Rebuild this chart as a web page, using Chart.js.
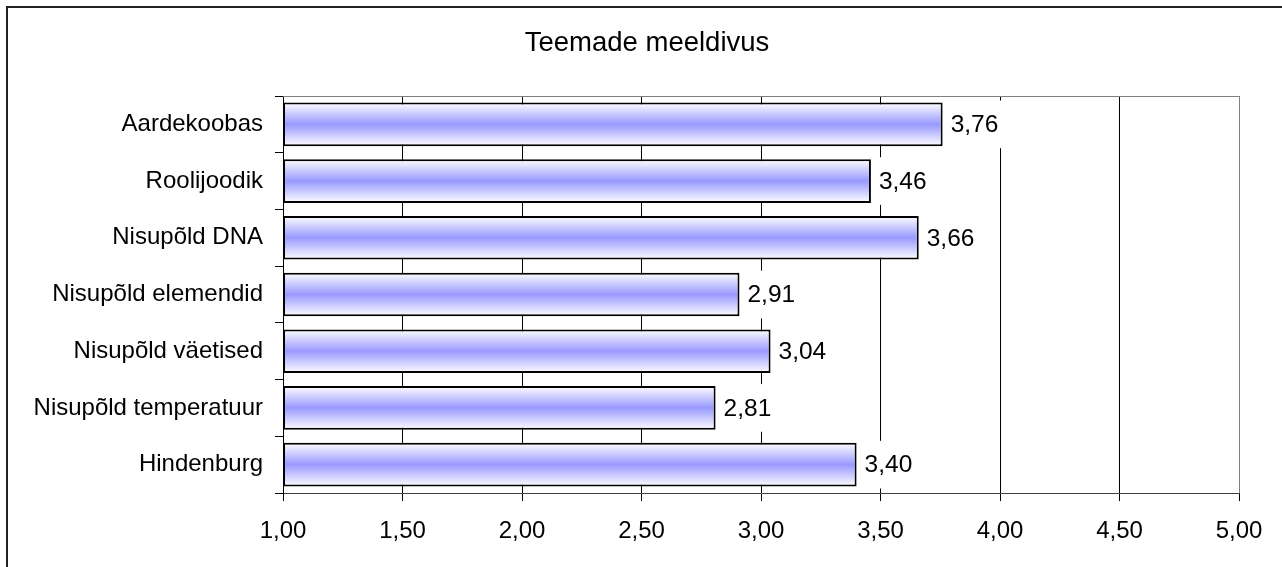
<!DOCTYPE html>
<html>
<head>
<meta charset="utf-8">
<script src="https://cdn.jsdelivr.net/npm/chart.js@4"></script>
<style>
  body { margin: 0; background: #fff; }
  canvas { display: block; }
</style>
</head>
<body>
<canvas id="myChart" width="1282" height="567"></canvas>
<script>
// data
const categories = ['Aardekoobas', 'Roolijoodik', 'Nisupõld DNA', 'Nisupõld elemendid',
  'Nisupõld väetised', 'Nisupõld temperatuur', 'Hindenburg'];
const scores = [3.76, 3.46, 3.66, 2.91, 3.04, 2.81, 3.40];
const xTicks = [1.00, 1.50, 2.00, 2.50, 3.00, 3.50, 4.00, 4.50, 5.00];
const baseValue = 1.00;

const FONT = "'Liberation Sans', Arial, sans-serif";
const BAR_PCT = 0.77;

function comma(v) {
  return v.toFixed(2).replace('.', ',');
}

// bar gradient: white at the edges, lavender in the middle
function barFill(ctx) {
  const chart = ctx.chart;
  const yScale = chart.scales.y;
  if (!chart.chartArea || !yScale || ctx.type !== 'data') return '#9999ff';
  const c = yScale.getPixelForValue(ctx.dataIndex);
  const h = (chart.chartArea.bottom - chart.chartArea.top) / categories.length * BAR_PCT / 2;
  const g = chart.ctx.createLinearGradient(0, c - h, 0, c + h);
  g.addColorStop(0, '#ffffff');
  g.addColorStop(0.5, '#9999ff');
  g.addColorStop(1, '#ffffff');
  return g;
}

// white page, outer frame and grey top edge of plot
const framePlugin = {
  id: 'frame',
  beforeDraw(chart) {
    const c = chart.ctx;
    c.save();
    c.fillStyle = '#fff';
    c.fillRect(0, 0, chart.width, chart.height);
    c.strokeStyle = '#222';
    c.lineWidth = 2;
    c.strokeRect(7, 7, chart.width + 20, chart.height + 20);
    c.restore();
  },
  beforeDatasetsDraw(chart) {
    const a = chart.chartArea;
    const c = chart.ctx;
    c.save();
    c.strokeStyle = '#808080';
    c.lineWidth = 1;
    c.beginPath();
    c.moveTo(a.left, a.top + 0.5);
    c.lineTo(a.right, a.top + 0.5);
    c.stroke();
    c.restore();
  }
};

// value labels on a white box right of each bar
const labelPlugin = {
  id: 'valueLabels',
  afterDatasetsDraw(chart) {
    const c = chart.ctx;
    const meta = chart.getDatasetMeta(0);
    c.save();
    c.font = '24.5px ' + FONT;
    c.textAlign = 'left';
    c.textBaseline = 'middle';
    meta.data.forEach((bar, i) => {
      const txt = comma(scores[i]);
      const w = c.measureText(txt).width;
      const h = bar.height;
      c.fillStyle = '#fff';
      c.fillRect(bar.x + 2, bar.y - h / 2 - 2, w + 12, h + 4);
      c.fillStyle = '#000';
      c.fillText(txt, bar.x + 8, bar.y + 1);
    });
    c.restore();
  }
};

const data = {
  labels: categories,
  datasets: [{
    data: scores.map(v => [baseValue, v]),
    backgroundColor: barFill,
    borderColor: '#000',
    borderWidth: 2,
    borderSkipped: false,
    categoryPercentage: 1,
    barPercentage: BAR_PCT
  }]
};

const config = {
  type: 'bar',
  data,
  options: {
    indexAxis: 'y',
    responsive: false,
    animation: false,
    layout: { padding: { left: 12, right: 0, top: 0, bottom: 0 } },
    plugins: {
      legend: { display: false },
      tooltip: { enabled: false },
      title: {
        display: true,
        text: 'Teemade meeldivus',
        color: '#000',
        font: { family: FONT, size: 27.5, weight: 'normal', lineHeight: 1.2 },
        padding: { top: 27, bottom: 36 }
      }
    },
    scales: {
      x: {
        min: 1,
        max: 5,
        afterBuildTicks: scale => { scale.ticks = xTicks.map(v => ({ value: v })); },
        afterFit: scale => { scale.height = 74; scale.paddingRight = 43; },
        grid: {
          color: ctx => (ctx.tick && ctx.tick.value === 5 ? '#808080' : '#000'),
          tickColor: '#000',
          tickLength: 8,
          lineWidth: 1
        },
        border: { color: '#404040', width: 1 },
        ticks: {
          color: '#000',
          font: { family: FONT, size: 24 },
          padding: 16,
          maxRotation: 0,
          callback: v => comma(v)
        }
      },
      y: {
        afterFit: scale => { scale.width = 271; },
        grid: {
          drawOnChartArea: false,
          tickColor: '#000',
          tickLength: 8
        },
        border: { color: '#000', width: 1 },
        ticks: {
          color: '#000',
          font: { family: FONT, size: 24 },
          padding: 12
        }
      }
    }
  },
  plugins: [framePlugin, labelPlugin]
};

const myChart = new Chart(document.getElementById('myChart'), config);
</script>
</body>
</html>
